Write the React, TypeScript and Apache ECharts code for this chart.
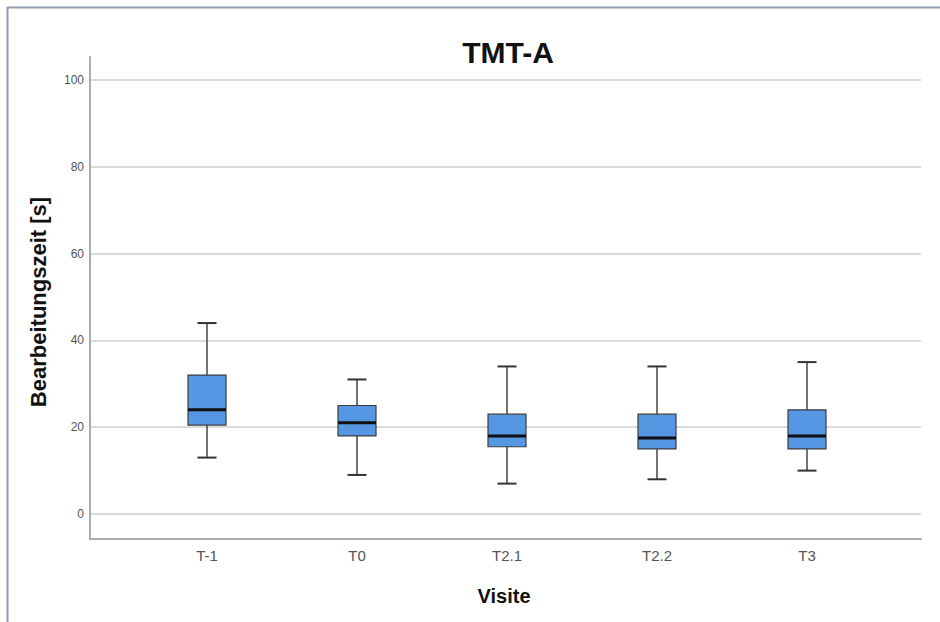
import React, { useEffect, useRef } from "react";
import * as echarts from "echarts";

const categories = ["T-1", "T0", "T2.1", "T2.2", "T3"];
const whiskerLow = [13, 9, 7, 8, 10];
const q1 = [20.5, 18, 15.5, 15, 15];
const median = [24, 21, 18, 17.5, 18];
const q3 = [32, 25, 23, 23, 24];
const whiskerHigh = [44, 31, 34, 34, 35];
const yTicks = { min: 0, max: 100, interval: 20 };

const FONT = '"Liberation Sans", Arial, sans-serif';

export default function App() {
  const ref = useRef<HTMLDivElement>(null);
  useEffect(() => {
    document.body.style.margin = "0";
    const chart = echarts.init(ref.current!, null, { renderer: "svg" });
    const rows = categories.map((c, i) => [i, whiskerLow[i], q1[i], median[i], q3[i], whiskerHigh[i]]);
    const axisLineStyle = { color: "#ababab", width: 2 };
    chart.setOption({
      animation: false,
      backgroundColor: "#ffffff",
      grid: [
        { left: 132, top: 80, width: 750, height: 434 },
        { left: 90, top: 80, width: 831, height: 434 },
        { left: 90, top: 57, width: 831, height: 482 },
      ],
      xAxis: [
        {
          gridIndex: 0,
          type: "category",
          data: categories,
          axisLine: { show: false },
          axisTick: { show: false },
          axisLabel: { margin: 34, color: "#555", fontSize: 15, fontFamily: FONT },
          splitLine: { show: false },
        },
        { gridIndex: 1, type: "value", min: 0, max: 1, show: false },
        {
          gridIndex: 2,
          type: "value",
          min: 0,
          max: 1,
          axisLine: { show: true, onZero: false, lineStyle: axisLineStyle },
          axisTick: { show: false },
          axisLabel: { show: false },
          splitLine: { show: false },
        },
      ],
      yAxis: [
        { gridIndex: 0, type: "value", min: yTicks.min, max: yTicks.max, show: false },
        {
          gridIndex: 1,
          type: "value",
          min: yTicks.min,
          max: yTicks.max,
          interval: yTicks.interval,
          axisLine: { show: false },
          axisTick: { show: false },
          axisLabel: { margin: 6, color: "#555", fontSize: 12, fontFamily: FONT },
          splitLine: { show: true, lineStyle: { color: "#dadada", width: 2 } },
        },
        {
          gridIndex: 2,
          type: "value",
          min: 0,
          max: 1,
          axisLine: { show: true, onZero: false, lineStyle: axisLineStyle },
          axisTick: { show: false },
          axisLabel: { show: false },
          splitLine: { show: false },
        },
      ],
      graphic: [
        { type: "line", shape: { x1: 7, y1: 7.5, x2: 940, y2: 7.5 }, style: { stroke: "#8d9bb0", lineWidth: 2 } },
        { type: "line", shape: { x1: 7.5, y1: 7, x2: 7.5, y2: 622 }, style: { stroke: "#8d9bb0", lineWidth: 2 } },
        {
          type: "text",
          x: 508,
          y: 52,
          style: { text: "TMT-A", font: `bold 30px ${FONT}`, fill: "#111", align: "center", verticalAlign: "middle" },
        },
        {
          type: "text",
          x: 38,
          y: 302,
          rotation: Math.PI / 2,
          style: {
            text: "Bearbeitungszeit [s]",
            font: `bold 22px ${FONT}`,
            fill: "#111",
            align: "center",
            verticalAlign: "middle",
          },
        },
        {
          type: "text",
          x: 504,
          y: 596,
          style: { text: "Visite", font: `bold 20px ${FONT}`, fill: "#111", align: "center", verticalAlign: "middle" },
        },
      ],
      series: [
        {
          type: "custom",
          xAxisIndex: 0,
          yAxisIndex: 0,
          data: rows,
          encode: { x: 0, y: [1, 2, 3, 4, 5] },
          renderItem: (params: any, api: any) => {
            const i = api.value(0);
            const pLow = api.coord([i, api.value(1)]);
            const pQ1 = api.coord([i, api.value(2)]);
            const pMed = api.coord([i, api.value(3)]);
            const pQ3 = api.coord([i, api.value(4)]);
            const pHigh = api.coord([i, api.value(5)]);
            const cx = pLow[0];
            const bw = 38;
            const cw = 19;
            const wStyle = { stroke: "#505050", lineWidth: 1.6 };
            const cStyle = { stroke: "#333", lineWidth: 2 };
            return {
              type: "group",
              children: [
                { type: "line", shape: { x1: cx, y1: pHigh[1], x2: cx, y2: pQ3[1] }, style: wStyle },
                { type: "line", shape: { x1: cx, y1: pQ1[1], x2: cx, y2: pLow[1] }, style: wStyle },
                { type: "line", shape: { x1: cx - cw / 2, y1: pHigh[1], x2: cx + cw / 2, y2: pHigh[1] }, style: cStyle },
                { type: "line", shape: { x1: cx - cw / 2, y1: pLow[1], x2: cx + cw / 2, y2: pLow[1] }, style: cStyle },
                {
                  type: "rect",
                  shape: { x: cx - bw / 2, y: pQ3[1], width: bw, height: pQ1[1] - pQ3[1] },
                  style: { fill: "#5597e3", stroke: "#3c3c3c", lineWidth: 1.2 },
                },
                {
                  type: "line",
                  shape: { x1: cx - bw / 2, y1: pMed[1], x2: cx + bw / 2, y2: pMed[1] },
                  style: { stroke: "#111", lineWidth: 3 },
                },
              ],
            };
          },
        },
      ],
    });
    return () => chart.dispose();
  }, []);
  return <div ref={ref} style={{ width: 940, height: 622 }} />;
}
